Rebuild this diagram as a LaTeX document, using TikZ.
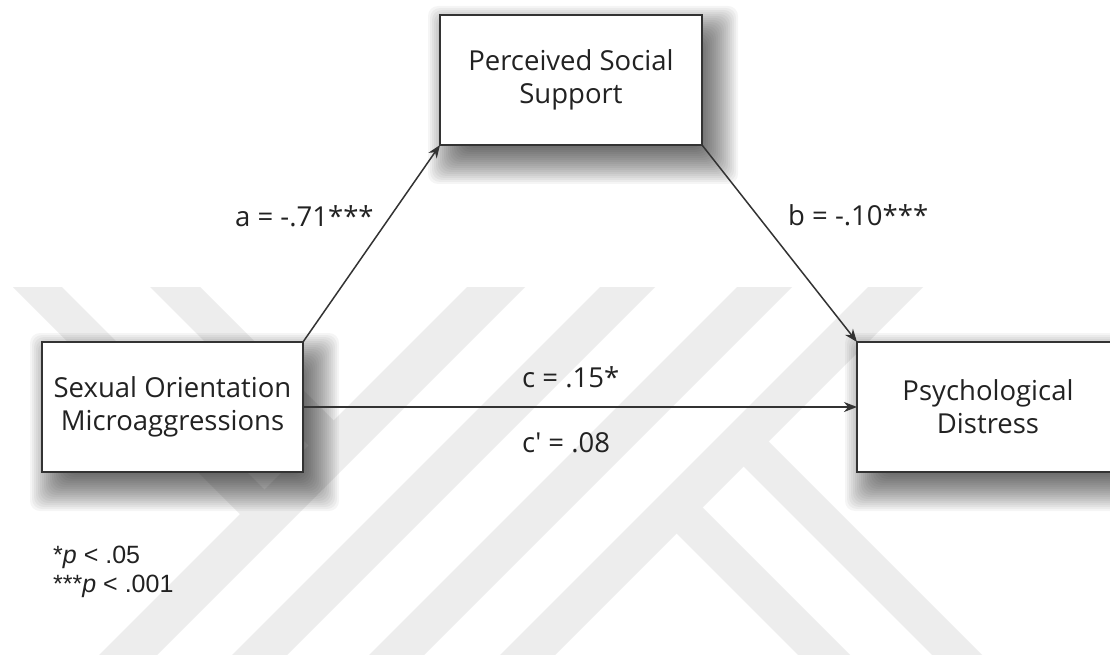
\documentclass[tikz,border=0pt]{standalone}
\usepackage{fontspec}
\setmainfont{Open Sans}
\newfontfamily\notefont{Liberation Sans}
\usetikzlibrary{arrows.meta,calc}
\pgfdeclarelayer{under}
\pgfsetlayers{under,main}

\definecolor{ink}{HTML}{333333}
\definecolor{letters}{HTML}{222222}
\definecolor{band}{HTML}{EDEDED}

\tikzset{
  var/.style={draw=ink, line width=1.5pt, fill=white, text=letters,
    minimum width=261pt, minimum height=130pt, align=center,
    inner sep=0pt, outer sep=0pt,
    font=\fontsize{27.5}{33}\selectfont},
  link/.style={draw=ink, line width=1.5pt,
    -{Stealth[length=13pt,width=10pt]}},
  coef/.style={anchor=base west, inner sep=0pt, text=letters,
    font=\fontsize{27.5}{33}\selectfont},
  note/.style={anchor=base west, inner sep=0pt, text=letters,
    font=\notefont\fontsize{25}{29}\selectfont},
  stripe/.style={fill=band, draw=none}
}

% soft drop shadow behind a box: stacked translucent rectangles, offset down-right
\newcommand\softshadow[1]{%
  \foreach \e in {-14,-12,-10,-8,-6,-4,-2,0,2,4,6,8,10,12,14,16,18,20,22,24}{%
    \fill[black, opacity=0.038, rounded corners=10pt]
      ($(#1.north west)+(12-\e,15-\e)$) rectangle ($(#1.south east)+(12+\e,15+\e)$);
  }%
}

\begin{document}
\begin{tikzpicture}[x=1pt,y=-1pt]
\useasboundingbox (0,0) rectangle (1110,655);
\clip (0,0) rectangle (1110,655);

% boxes
\node[var] (som) at (172.5,407) {Sexual Orientation\\Microaggressions};
\node[var, minimum width=262pt] (pss) at (571,80) {Perceived Social\\Support};
\node[var, minimum width=262pt] (pd) at (988,407) {Psychological\\Distress};

% paths
\draw[link] (som.north east) -- (pss.south west);
\draw[link] (pss.south east) -- (pd.north west);
\draw[link] (som.east) -- (pd.west);

% coefficients
\node[coef] (la) at (235,226) {a = -.71***};
\node[coef] (lb) at (788,225) {b = -.10***};
\node[coef] (lc) at (522,387) {c = .15*};
\node[coef] (lcp) at (522,452) {c\textquotesingle\ = .08};

% significance notes
\node[note] (n1) at (53,563) {*\textit{p} < .05};
\node[note] (n2) at (53,592) {***\textit{p} < .001};

\begin{pgfonlayer}{under}
  \fill[white] (0,0) rectangle (1110,655);
  % background stripe pattern
  \begin{scope}
    \clip (0,287) rectangle (1110,655);
    \fill[stripe] (467,287) -- (525,287) -- (125,687) -- (67,687) -- cycle;
    \fill[stripe] (600,287) -- (655,287) -- (255,687) -- (200,687) -- cycle;
    \fill[stripe] (737,287) -- (792,287) -- (392,687) -- (337,687) -- cycle;
    \fill[stripe] (868,287) -- (923,287) -- (523,687) -- (468,687) -- cycle;
    \fill[stripe] (13,287) -- (62,287) -- (279,504) -- (254.5,528.5) -- cycle;
    \fill[stripe] (150,287) -- (200,287) -- (348,435) -- (323,460) -- cycle;
    \fill[stripe] (754.75,427.75) -- (1054.75,727.75) -- (1029.75,752.75) -- (729.75,452.75) -- cycle;
    \fill[stripe] (688.75,493.75) -- (988.75,793.75) -- (962.75,819.75) -- (662.75,519.75) -- cycle;
  \end{scope}
  \softshadow{som}
  \softshadow{pss}
  \softshadow{pd}
\end{pgfonlayer}
\end{tikzpicture}
\end{document}
